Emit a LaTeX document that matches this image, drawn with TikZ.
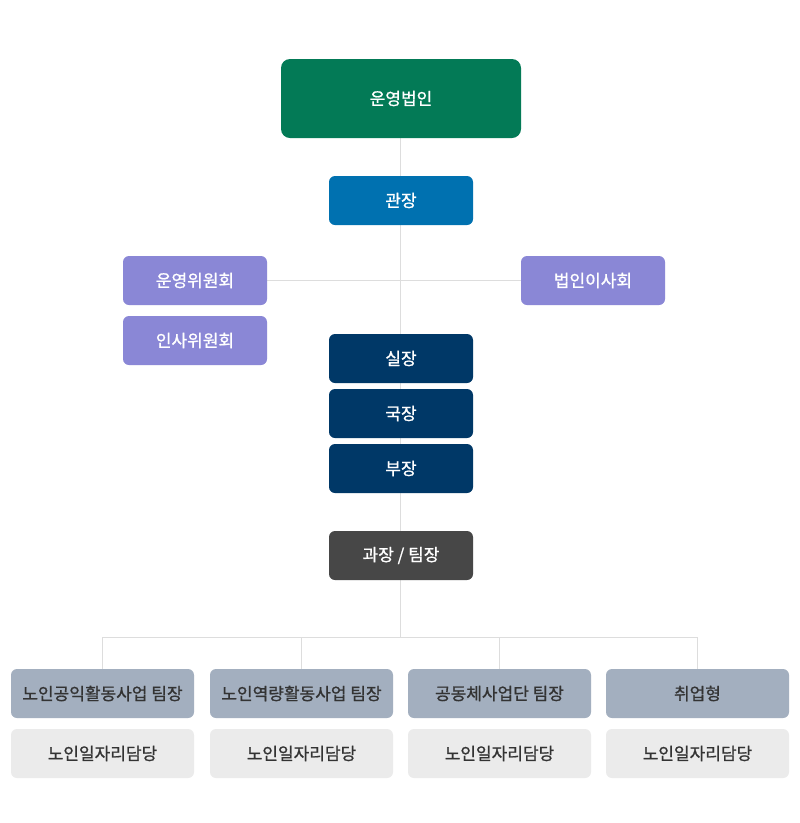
\documentclass[tikz,border=0pt]{standalone}
\usepackage{fontspec}
\setmainfont{Noto Sans CJK KR}[FakeBold=1.0]
\usetikzlibrary{backgrounds}
\definecolor{cgreen}{HTML}{037A56}
\definecolor{cblue}{HTML}{0071B0}
\definecolor{cpurple}{HTML}{8A87D6}
\definecolor{cnavy}{HTML}{003867}
\definecolor{cdark}{HTML}{474747}
\definecolor{cbluegray}{HTML}{A3AFBF}
\definecolor{clight}{HTML}{EBEBEB}
\definecolor{cline}{HTML}{DDDDDD}
\definecolor{ctext}{HTML}{333333}
\begin{document}
\begin{tikzpicture}[x=1pt,y=-1pt,
  font=\fontsize{17}{20}\selectfont,
  box/.style={rounded corners=6pt, inner sep=0pt, minimum width=144pt, minimum height=49pt, text=white},
  wide/.style={box, minimum width=183pt},
  conn/.style={draw=cline, line width=1pt}]
\useasboundingbox (0,0) rectangle (800,823);
\node[box, fill=cgreen, minimum width=240pt, minimum height=79pt, rounded corners=9pt] (top) at (401,98.5) {운영법인};
\node[box, fill=cblue] (gwan) at (401,200.5) {관장};
\node[box, fill=cpurple] (unyoung) at (195,280.5) {운영위원회};
\node[box, fill=cpurple] (insa) at (195,340.5) {인사위원회};
\node[box, fill=cpurple] (beob) at (593,280.5) {법인이사회};
\node[box, fill=cnavy] (sil) at (401,358.5) {실장};
\node[box, fill=cnavy] (guk) at (401,413.5) {국장};
\node[box, fill=cnavy] (bu) at (401,468.5) {부장};
\node[box, fill=cdark] (gwa) at (401,555.5) {과장 / 팀장};
\coordinate (hub) at (400,637);
\node[wide, fill=cbluegray, text=ctext] (t1) at (102.5,693.5) {노인공익활동사업 팀장};
\node[wide, fill=cbluegray, text=ctext] (t2) at (301.5,693.5) {노인역량활동사업 팀장};
\node[wide, fill=cbluegray, text=ctext] (t3) at (499.5,693.5) {공동체사업단 팀장};
\node[wide, fill=cbluegray, text=ctext] (t4) at (697.5,693.5) {취업형};
\node[wide, fill=clight, text=ctext] (s1) at (102.5,753.5) {노인일자리담당};
\node[wide, fill=clight, text=ctext] (s2) at (301.5,753.5) {노인일자리담당};
\node[wide, fill=clight, text=ctext] (s3) at (499.5,753.5) {노인일자리담당};
\node[wide, fill=clight, text=ctext] (s4) at (697.5,753.5) {노인일자리담당};
\begin{scope}[on background layer]
\fill[white] (0,0) rectangle (800,823);
\draw[conn] (top.south -| hub) -- (hub);
\draw[conn] (unyoung.east) -- (beob.west);
\draw[conn] (t1.north) -- (t1.north |- hub) -- (t4.north |- hub) -- (t4.north);
\draw[conn] (t2.north) -- (t2.north |- hub);
\draw[conn] (t3.north) -- (t3.north |- hub);
\end{scope}
\end{tikzpicture}
\end{document}
